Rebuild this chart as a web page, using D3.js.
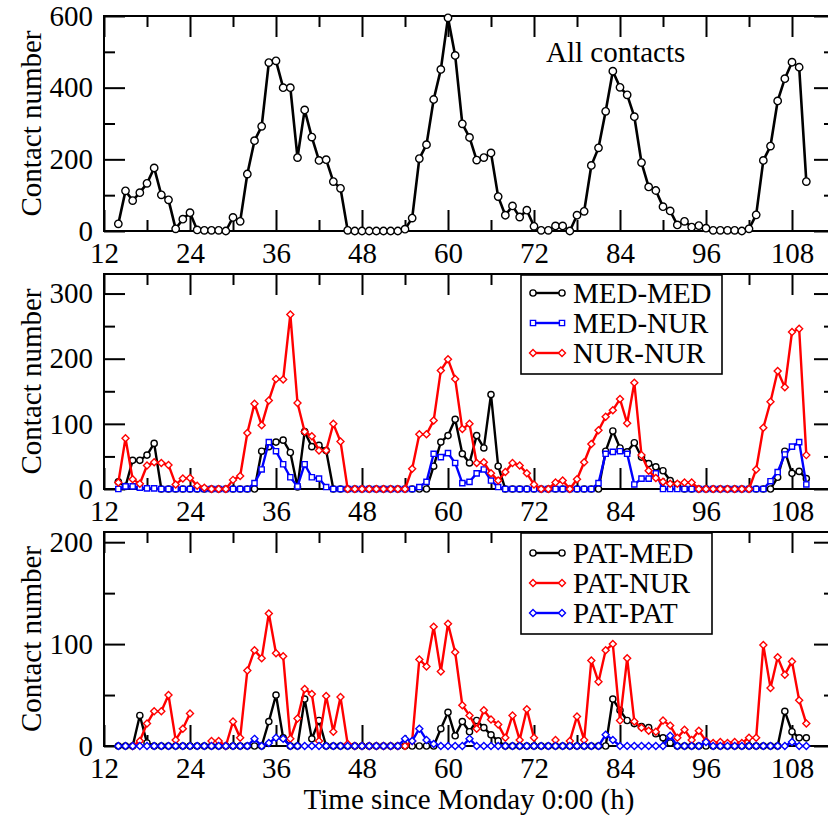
<!DOCTYPE html>
<html>
<head>
<meta charset="utf-8">
<script src="https://cdn.jsdelivr.net/npm/d3@7"></script>
<style>
  body { margin: 0; background: #fff; }
  svg { display: block; }
  text { font-family: "Liberation Serif", "Times New Roman", serif; fill: #000; }
</style>
</head>
<body>
<svg id="chart" width="828" height="816"></svg>
<script>
// Hourly samples, hours since Monday 0:00
const hours = [
  14, 15, 16, 17, 18, 19, 20, 21, 22, 23, 24, 25,
  26, 27, 28, 29, 30, 31, 32, 33, 34, 35, 36, 37,
  38, 39, 40, 41, 42, 43, 44, 45, 46, 47, 48, 49,
  50, 51, 52, 53, 54, 55, 56, 57, 58, 59, 60, 61,
  62, 63, 64, 65, 66, 67, 68, 69, 70, 71, 72, 73,
  74, 75, 76, 77, 78, 79, 80, 81, 82, 83, 84, 85,
  86, 87, 88, 89, 90, 91, 92, 93, 94, 95, 96, 97,
  98, 99, 100, 101, 102, 103, 104, 105, 106, 107, 108, 109,
  110
];

// Panel 1: all contacts
const allContacts = [
  20, 112, 85, 107, 133, 176, 101, 87, 6, 33, 51, 3,
  2, 2, 2, 0, 38, 27, 159, 252, 292, 470, 475, 400,
  400, 205, 338, 262, 197, 199, 138, 119, 2, 0, 0, 0,
  0, 0, 0, 0, 5, 36, 202, 241, 367, 451, 595, 490,
  299, 261, 198, 205, 218, 96, 44, 70, 39, 58, 13, 2,
  2, 14, 14, 0, 44, 55, 183, 232, 334, 446, 401, 380,
  319, 191, 123, 113, 68, 56, 17, 27, 11, 15, 8, 2,
  2, 2, 2, 0, 6, 45, 197, 237, 363, 425, 471, 457,
  138
];

// Panel 2: staff-staff contacts
const medMed = [
  11, 4, 44, 44, 52, 70, 0, 0, 0, 0, 0, 0,
  0, 0, 0, 0, 0, 0, 0, 0, 58, 65, 72, 75,
  56, 3, 88, 65, 67, 59, 0, 0, 0, 0, 0, 0,
  0, 0, 0, 0, 0, 0, 0, 0, 35, 72, 82, 107,
  54, 40, 82, 63, 145, 35, 0, 0, 0, 0, 0, 0,
  0, 0, 0, 0, 0, 0, 0, 0, 58, 89, 63, 57,
  71, 49, 39, 34, 28, 13, 7, 0, 0, 0, 0, 0,
  0, 0, 0, 0, 0, 0, 0, 0, 18, 58, 24, 27,
  16
];
const medNur = [
  0, 4, 4, 2, 1, 1, 0, 0, 0, 0, 0, 0,
  0, 0, 0, 0, 0, 0, 0, 9, 30, 72, 58, 38,
  18, 4, 38, 18, 16, 3, 0, 0, 0, 0, 0, 0,
  0, 0, 0, 0, 0, 0, 3, 11, 54, 49, 55, 40,
  9, 11, 24, 30, 13, 3, 0, 0, 0, 0, 0, 0,
  0, 0, 0, 0, 0, 0, 0, 9, 54, 57, 58, 54,
  7, 16, 16, 24, 0, 0, 0, 0, 0, 0, 0, 0,
  0, 0, 0, 0, 0, 0, 0, 12, 26, 53, 65, 72,
  7
];
const nurNur = [
  10, 78, 15, 8, 36, 41, 40, 37, 7, 16, 17, 5,
  2, 0, 0, 0, 14, 20, 86, 131, 98, 136, 169, 168,
  268, 132, 88, 81, 59, 59, 100, 73, 0, 0, 0, 0,
  0, 0, 0, 0, 0, 31, 84, 84, 105, 182, 199, 169,
  92, 100, 40, 41, 24, 13, 26, 40, 36, 24, 7, 0,
  0, 10, 13, 0, 15, 41, 69, 90, 111, 121, 138, 101,
  163, 52, 28, 17, 11, 8, 8, 10, 10, 0, 0, 0,
  0, 0, 0, 0, 0, 30, 94, 134, 181, 156, 241, 246,
  52
];

// Panel 3: contacts involving patients (null = no sample)
const patMed = [
  0, 0, 0, 30, 3, 0, 0, 0, 0, 0, 0, 0,
  0, 0, 0, 0, 0, 0, 0, 0, 0, 24, 50, 8,
  0, 0, 46, 7, 25, 0, 0, 0, 0, 0, 0, 0,
  0, 0, 0, 0, 0, 0, 0, 0, 0, 17, 33, 10,
  24, 14, 25, 18, 11, 5, 0, 0, 0, 0, 0, 0,
  0, 0, 0, 0, 0, 0, 0, 0, 0, 46, 35, 25,
  22, 19, 18, 12, 8, 3, 0, 0, 0, 0, 0, 0,
  0, 0, 0, 0, 0, 0, 0, 0, 0, 34, 14, 8,
  8
];
const patNur = [
  null, null, 0, 5, 22, 34, 34, 50, 6, 17, 32, null,
  null, 5, 5, 0, 24, 8, 74, 94, 86, 130, 91, 88,
  7, 27, 56, 51, 5, 49, 14, 48, 2, 0, 0, 0,
  0, 0, 0, 0, 0, 5, 85, 78, 117, 73, 120, 92,
  40, 30, 17, 35, 26, 21, 8, 30, 6, 36, 8, null,
  null, 6, null, 5, 29, 6, 84, 63, 94, 100, 25, 86,
  24, 18, 15, 14, 25, 20, 8, 16, 6, 15, 5, 3,
  4, 3, 4, 3, 8, 8, 99, 57, 87, 70, 83, 45,
  22
];
const patPat = [
  0, 0, 0, 0, 0, 0, 0, 0, 0, 0, 0, 0,
  0, 0, 0, 0, 0, 0, 0, 7, 0, 3, 8, 7,
  0, 0, 0, 0, 0, 0, 0, 0, 0, 0, 0, 0,
  0, 0, 0, 0, 7, 5, 17, 6, 2, 0, 0, 0,
  0, 7, 0, 0, 0, 0, 0, 0, 0, 0, 0, 0,
  0, 0, 0, 0, 0, 0, 0, 0, 11, 6, 0, 0,
  0, 0, 0, 0, 0, 10, 0, 0, 0, 0, 4, 0,
  0, 0, 0, 0, 0, 0, 0, 0, 0, 0, 4, 0,
  0
];

// Axis ticks
const xMajor = [12, 24, 36, 48, 60, 72, 84, 96, 108];
const xMinor = [18, 30, 42, 54, 66, 78, 90, 102];
const y1Major = [0, 200, 400, 600], y1Minor = [100, 300, 500];
const y2Major = [0, 100, 200, 300], y2Minor = [50, 150, 250];
const y3Major = [0, 100, 200],      y3Minor = [50, 150];

const svg = d3.select("#chart");
const FONT = 29;
const x = d3.scaleLinear().domain([12, 114]).range([104, 835]);

function markerPath(shape, s) {
  if (shape === "circle") return d3.symbol(d3.symbolCircle, Math.PI * s * s)();
  if (shape === "square") return `M${-s},${-s}H${s}V${s}H${-s}Z`;
  return `M0,${-s * 1.25}L${s * 1.25},0L0,${s * 1.25}L${-s * 1.25},0Z`;
}

function panel(cfg) {
  const y = d3.scaleLinear().domain(cfg.domain).range([cfg.bottom, cfg.top]);
  const g = svg.append("g");

  const mk = (axis, tv, size, fmt) =>
    axis.tickValues(tv).tickSizeInner(-size).tickSizeOuter(0).tickPadding(11)
        .tickFormat(fmt === null ? "" : fmt);

  const axes = [
    [d3.axisBottom(x), `translate(0,${cfg.bottom})`, xMajor, 21, d3.format("d")],
    [d3.axisBottom(x), `translate(0,${cfg.bottom})`, xMinor, 11, null],
    [d3.axisTop(x),    `translate(0,${cfg.top})`,    xMajor, 21, null],
    [d3.axisTop(x),    `translate(0,${cfg.top})`,    xMinor, 11, null],
    [d3.axisLeft(y),   `translate(104,0)`,           cfg.major, 21, d3.format("d")],
    [d3.axisLeft(y),   `translate(104,0)`,           cfg.minor, 11, null],
    [d3.axisRight(y),  `translate(835,0)`,           cfg.major, 21, null],
    [d3.axisRight(y),  `translate(835,0)`,           cfg.minor, 11, null]
  ];
  axes.forEach(([ax, tr, tv, size, fmt]) => {
    const a = g.append("g").attr("transform", tr).call(mk(ax, tv, size, fmt));
    a.select(".domain").remove();
    a.selectAll(".tick line").attr("stroke", "#000").attr("stroke-width", 2);
    a.selectAll(".tick text").attr("font-size", FONT)
      .attr("font-family", '"Liberation Serif", serif').attr("fill", "#000");
  });

  g.append("rect")
    .attr("x", 104).attr("y", cfg.top)
    .attr("width", 835 - 104).attr("height", cfg.bottom - cfg.top)
    .attr("fill", "none").attr("stroke", "#000").attr("stroke-width", 2);

  g.append("text")
    .attr("transform", `translate(41,${(cfg.top + cfg.bottom) / 2}) rotate(-90)`)
    .attr("text-anchor", "middle").attr("font-size", FONT)
    .text("Contact number");

  cfg.series.forEach(s => {
    const pts = hours.map((h, i) => ({ h, v: s.values[i] }));
    const line = d3.line().defined(d => d.v !== null)
      .x(d => x(d.h)).y(d => y(d.v));
    g.append("path").datum(pts)
      .attr("d", line).attr("fill", "none")
      .attr("stroke", s.color).attr("stroke-width", s.lw || 2.4)
      .attr("stroke-linejoin", "round");
    g.selectAll(null).data(pts.filter(d => d.v !== null)).enter()
      .append("path")
      .attr("transform", d => `translate(${x(d.h)},${y(d.v)})`)
      .attr("d", markerPath(s.shape, s.size))
      .attr("fill", "#fff").attr("stroke", s.color).attr("stroke-width", 1.4);
  });

  if (cfg.legend) {
    const L = cfg.legend;
    g.append("rect").attr("x", L.x).attr("y", L.y)
      .attr("width", L.w).attr("height", L.h)
      .attr("fill", "#fff").attr("stroke", "#000").attr("stroke-width", 1.6);
    cfg.series.forEach((s, i) => {
      const cy = L.rows[i];
      g.append("line").attr("x1", L.x + 12).attr("x2", L.x + 41)
        .attr("y1", cy).attr("y2", cy)
        .attr("stroke", s.color).attr("stroke-width", 2.4);
      [L.x + 12, L.x + 41].forEach(cx =>
        g.append("path").attr("transform", `translate(${cx},${cy})`)
          .attr("d", markerPath(s.shape, s.size))
          .attr("fill", "#fff").attr("stroke", s.color).attr("stroke-width", 1.4));
      g.append("text").attr("x", L.x + 52).attr("y", cy + 10)
        .attr("font-size", FONT).text(s.name);
    });
  }
  return g;
}

const p1 = panel({
  top: 16, bottom: 231, domain: [0, 600], major: y1Major, minor: y1Minor,
  series: [{ name: "All contacts", values: allContacts, color: "#000", shape: "circle", size: 3.7, lw: 2.6 }]
});
p1.append("text").attr("x", 546).attr("y", 62).attr("font-size", FONT).text("All contacts");

panel({
  top: 274, bottom: 489, domain: [0, 330], major: y2Major, minor: y2Minor,
  series: [
    { name: "MED-MED", values: medMed, color: "#000", shape: "circle", size: 3.1 },
    { name: "MED-NUR", values: medNur, color: "#0000ff", shape: "square", size: 2.6 },
    { name: "NUR-NUR", values: nurNur, color: "#ff0000", shape: "diamond", size: 2.8 }
  ],
  legend: { x: 521, y: 275, w: 201, h: 99, rows: [293, 323, 353] }
});

panel({
  top: 532, bottom: 746, domain: [0, 210], major: y3Major, minor: y3Minor,
  series: [
    { name: "PAT-MED", values: patMed, color: "#000", shape: "circle", size: 3.1 },
    { name: "PAT-NUR", values: patNur, color: "#ff0000", shape: "diamond", size: 2.8 },
    { name: "PAT-PAT", values: patPat, color: "#0000ff", shape: "diamond", size: 2.8 }
  ],
  legend: { x: 521, y: 533, w: 191, h: 101, rows: [553, 583, 613] }
});

svg.append("text").attr("x", 469).attr("y", 809)
  .attr("text-anchor", "middle").attr("font-size", FONT)
  .text("Time since Monday 0:00 (h)");
</script>
</body>
</html>
